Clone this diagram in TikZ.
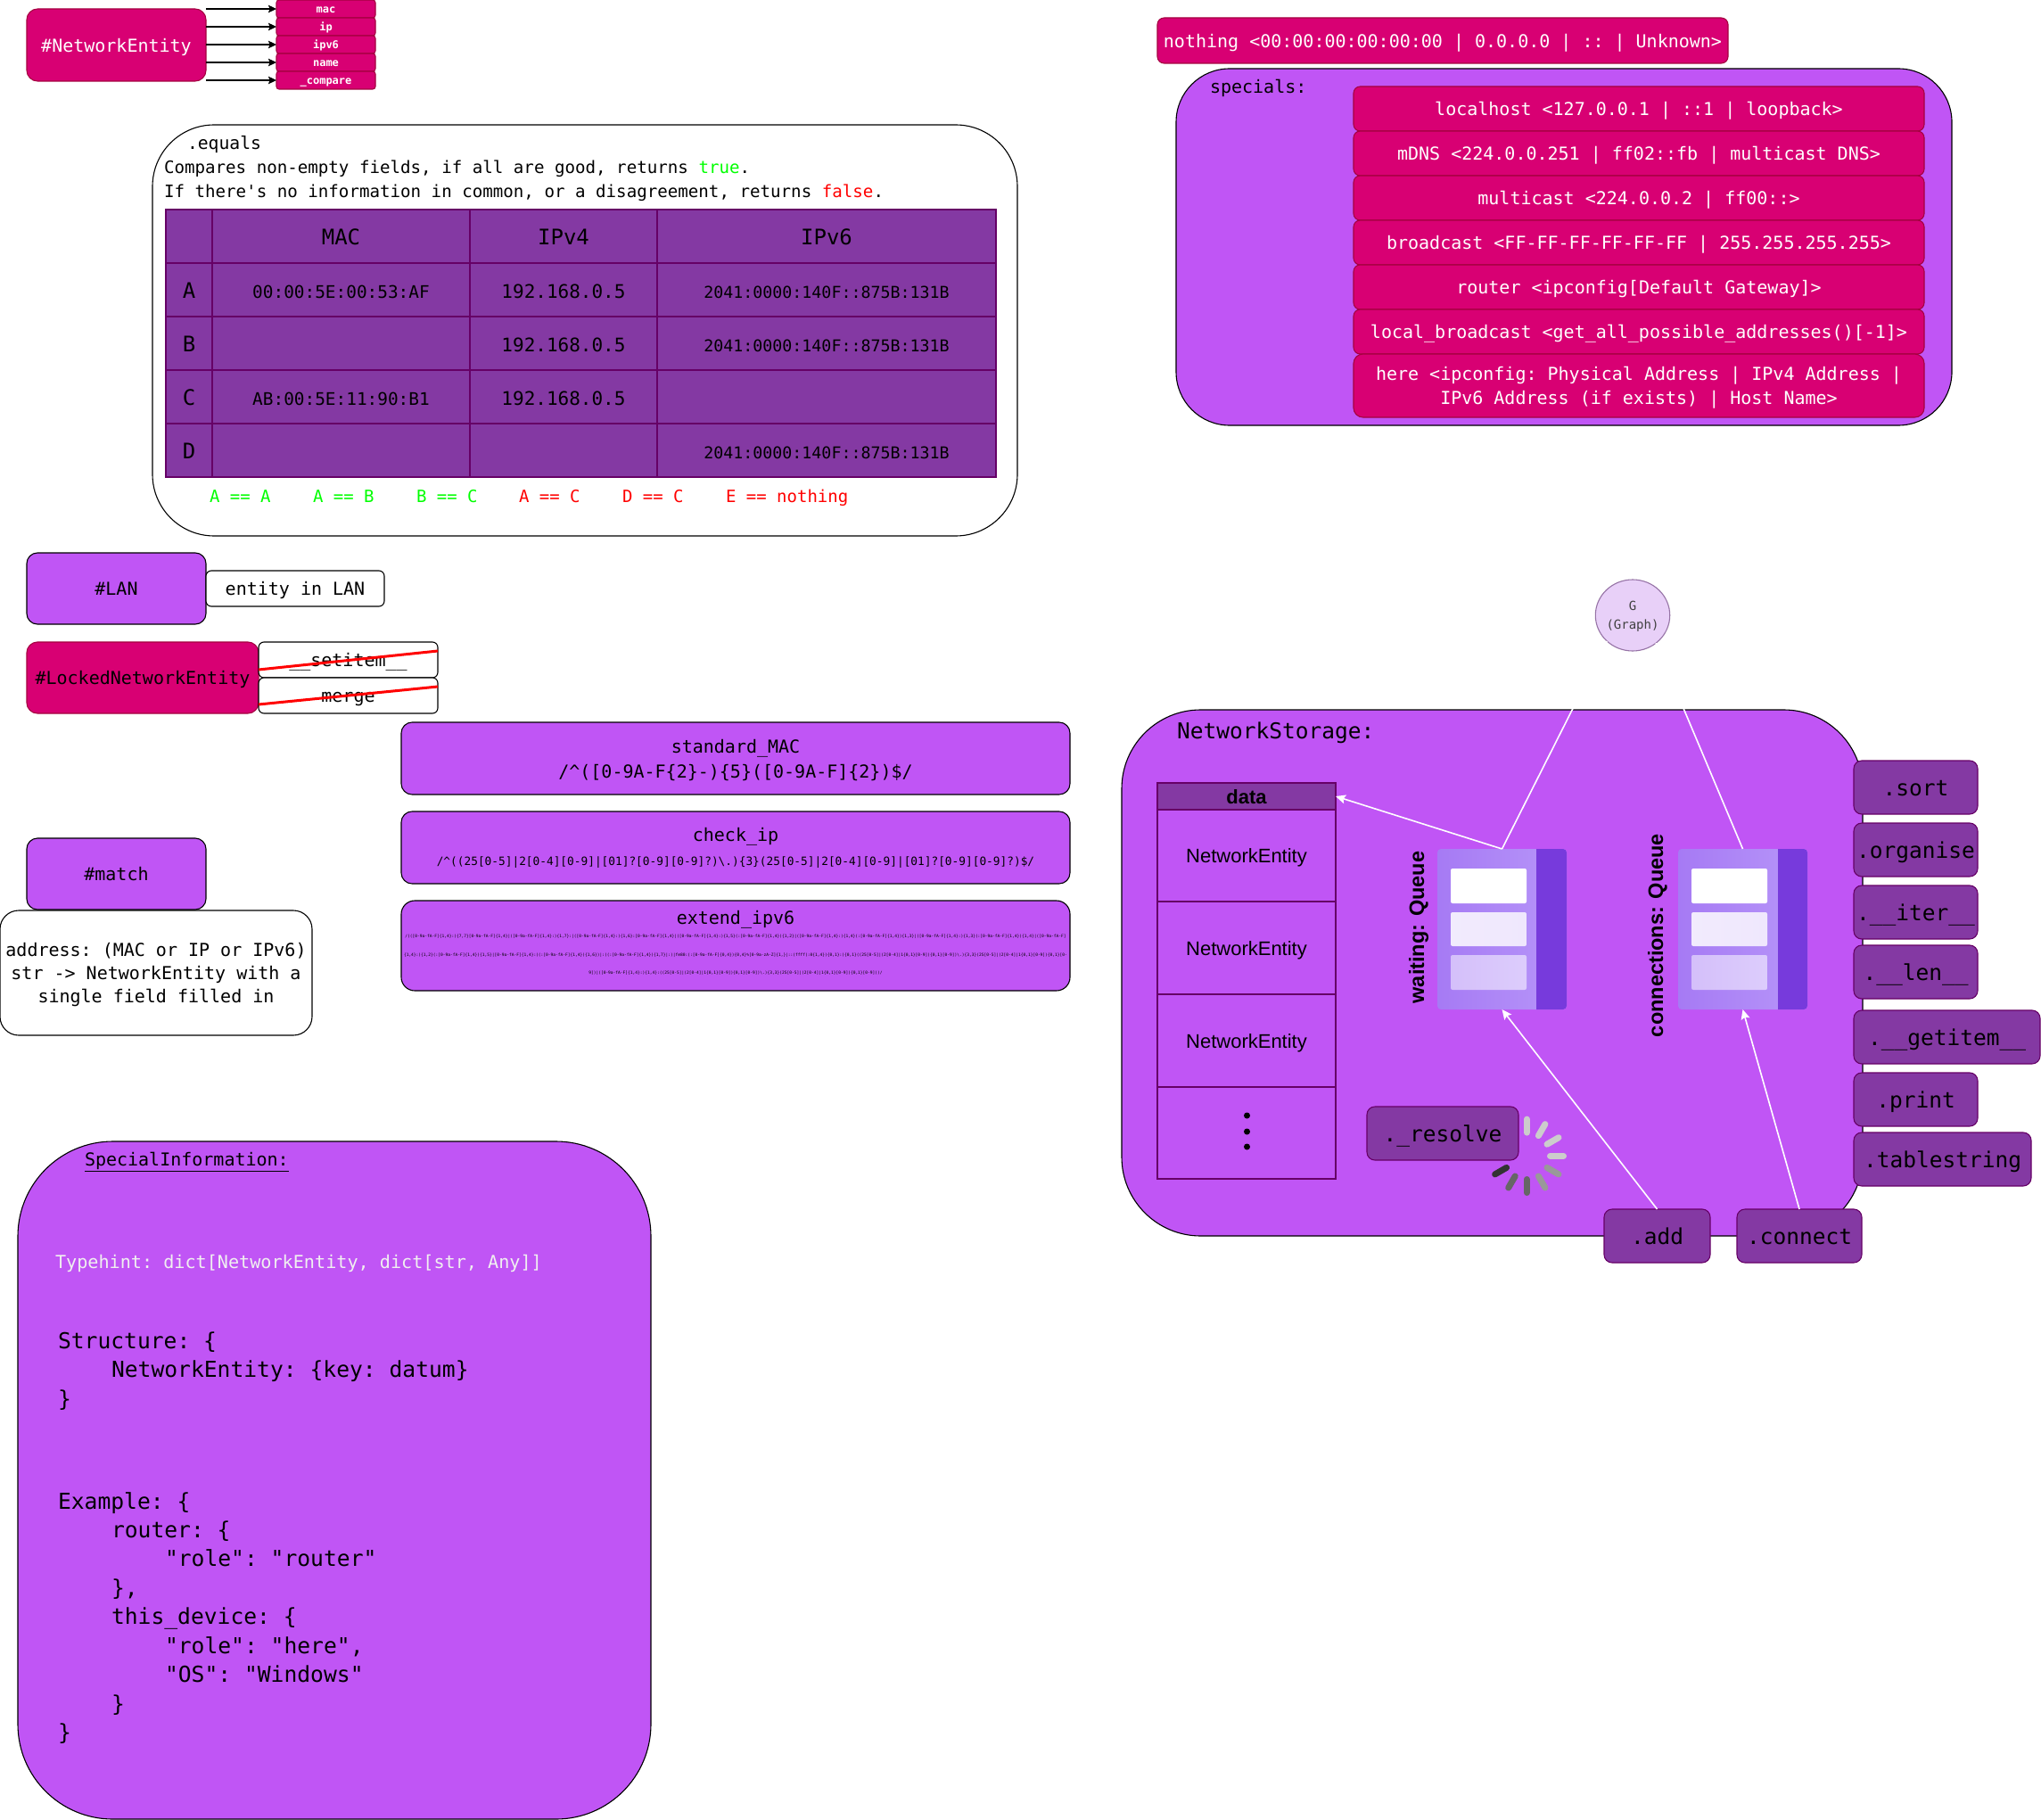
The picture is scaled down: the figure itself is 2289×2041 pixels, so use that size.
\documentclass[tikz,border=0pt]{standalone}
\usepackage{fontspec}
\setmonofont{DejaVu Sans Mono}
\newfontfamily\hvf{Liberation Sans}
\usetikzlibrary{arrows.meta,shapes.geometric}
\definecolor{purp}{HTML}{C055F5}
\definecolor{pdark}{HTML}{8439A3}
\definecolor{pstroke}{HTML}{660066}
\definecolor{pink}{HTML}{D80073}
\definecolor{pinks}{HTML}{A50040}
\definecolor{gfill}{HTML}{E8D0F8}
\definecolor{gline}{HTML}{9673A6}
\definecolor{lgreen}{HTML}{00FF00}
\definecolor{lred}{HTML}{FF0000}
\definecolor{qa}{HTML}{A67AF4}
\definecolor{qb}{HTML}{B796F9}
\definecolor{qd}{HTML}{773ADC}
\newcommand\fsz[2]{\fontsize{#1}{#2}\selectfont}
% name, options, x1, y1, x2, y2, text
\newcommand\rbx[7]{%
  \pgfmathsetmacro\rr{min(#5-#3,#6-#4)*0.15}%
  \node[rbox,rounded corners=\rr pt,minimum width={(#5-#3)*1pt},minimum height={(#6-#4)*1pt},#2]
    (#1) at ({(#3+#5)/2},{(#4+#6)/2}) {\rule{0pt}{0.76em}#7};}
% name, x, y, size, text
\newcommand\tlab[5]{\node[tlabel,font=\ttfamily\fsz{#4}{#4},yshift={-0.27*#4pt}] (#1) at (#2,#3) {#5};}
\tikzset{
  base/.style={inner sep=0pt,outer sep=0pt,align=center,line width=1.1pt,text depth=0pt},
  rbox/.style={base,draw=black,font=\ttfamily\fsz{20}{27}},
  tlabel/.style={inner sep=0pt,outer sep=0pt,anchor=mid west},
  purpbox/.style={fill=purp},
  whitebox/.style={fill=white},
  pinkbox/.style={fill=pink,draw=pinks,text=white},
  attrbox/.style={pinkbox,font=\ttfamily\bfseries\fsz{12}{14}},
  method/.style={fill=pdark,draw=pstroke,font=\ttfamily\fsz{24.5}{28}},
  tcell/.style={fill=pdark,draw=pstroke,sharp corners,font=\ttfamily\fsz{24}{28}},
  dcell/.style={draw=pstroke,sharp corners,font=\hvf\fsz{22}{26}},
  arrowblack/.style={line width=1.2pt,-{Stealth[length=9pt,width=8.5pt,inset=1.5pt]},black},
  whiteedge/.style={line width=1.6pt,white},
  whitearrow/.style={line width=1.6pt,white,-{Stealth[length=11pt,width=10pt,inset=2pt]}},
  strike/.style={line width=3pt,red},
  queue/.style={draw=none,sharp corners,rounded corners=4pt,left color=qa,right color=qb},
  qlabel/.style={inner sep=0pt,rotate=90,font=\hvf\bfseries\fsz{23.5}{26}},
  regexline/.style={inner sep=0pt,align=center},
}
\begin{document}
\begin{tikzpicture}[x=1pt,y=-1pt]
\useasboundingbox (0,0) rectangle (2289,2041);
\fill[white] (0,0) rectangle (2289,2041);

% NetworkEntity
\rbx{ne}{pinkbox}{30}{10}{231}{91}{\#NetworkEntity}
\rbx{amac}{attrbox}{310}{0}{421}{20}{mac}
\rbx{aip}{attrbox}{310}{20}{421}{40}{ip}
\rbx{aipv}{attrbox}{310}{40}{421}{60}{ipv6}
\rbx{aname}{attrbox}{310}{60}{421}{80}{name}
\rbx{acmp}{attrbox}{310}{80}{421}{100}{\_compare}
\foreach \a in {amac,aip,aipv,aname,acmp}{
  \draw[arrowblack] (\a.west -| ne.east) -- (\a.west);
}

% equals
\rbx{eq}{whitebox}{171}{140}{1141}{601}{}
\tlab{eqt}{210}{160}{19.7}{.equals}
\tlab{eqa}{184}{187}{19.15}{Compares non-empty fields, if all are good, returns \textcolor{lgreen}{true}.}
\tlab{eqb}{184}{214}{19.15}{If there's no information in common, or a disagreement, returns \textcolor{lred}{false}.}
\rbx{c00}{tcell}{186}{235}{238}{295}{}
\rbx{c01}{tcell}{238}{235}{527}{295}{MAC}
\rbx{c02}{tcell}{527}{235}{737}{295}{IPv4}
\rbx{c03}{tcell}{737}{235}{1117}{295}{IPv6}
\rbx{c10}{tcell}{186}{295}{238}{355}{A}
\rbx{c11}{tcell}{238}{295}{527}{355}{\fsz{19.4}{24}00:00:5E:00:53:AF}
\rbx{c12}{tcell}{527}{295}{737}{355}{\fsz{21}{24}192.168.0.5}
\rbx{c13}{tcell}{737}{295}{1117}{355}{\fsz{18.3}{24}2041:0000:140F::875B:131B}
\rbx{c20}{tcell}{186}{355}{238}{415}{B}
\rbx{c21}{tcell}{238}{355}{527}{415}{}
\rbx{c22}{tcell}{527}{355}{737}{415}{\fsz{21}{24}192.168.0.5}
\rbx{c23}{tcell}{737}{355}{1117}{415}{\fsz{18.3}{24}2041:0000:140F::875B:131B}
\rbx{c30}{tcell}{186}{415}{238}{475}{C}
\rbx{c31}{tcell}{238}{415}{527}{475}{\fsz{19.4}{24}AB:00:5E:11:90:B1}
\rbx{c32}{tcell}{527}{415}{737}{475}{\fsz{21}{24}192.168.0.5}
\rbx{c33}{tcell}{737}{415}{1117}{475}{}
\rbx{c40}{tcell}{186}{475}{238}{535}{D}
\rbx{c41}{tcell}{238}{475}{527}{535}{}
\rbx{c42}{tcell}{527}{475}{737}{535}{}
\rbx{c43}{tcell}{737}{475}{1117}{535}{\fsz{18.3}{24}2041:0000:140F::875B:131B}
\tlab{r1}{235}{556}{19}{\textcolor{lgreen}{A == A}}
\tlab{r2}{351}{556}{19}{\textcolor{lgreen}{A == B}}
\tlab{r3}{467}{556}{19}{\textcolor{lgreen}{B == C}}
\tlab{r4}{582}{556}{19}{\textcolor{lred}{A == C}}
\tlab{r5}{698}{556}{19}{\textcolor{lred}{D == C}}
\tlab{r6}{814}{556}{19}{\textcolor{lred}{E == nothing}}

% LAN / Locked
\rbx{lan}{purpbox}{30}{620}{231}{700}{\#LAN}
\rbx{ent}{whitebox}{231}{640}{431}{680}{entity in LAN}
\rbx{locked}{fill=pink,draw=pinks}{30}{720}{290}{800}{\#LockedNetworkEntity}
\rbx{setit}{whitebox}{290}{720}{491}{760}{\_\_setitem\_\_}
\rbx{merge}{whitebox}{290}{760}{491}{800}{merge}
\draw[strike] ([yshift=-11pt]setit.west) -- ([yshift=10pt]setit.east);
\draw[strike] ([yshift=-10pt]merge.west) -- ([yshift=10pt]merge.east);

% match
\rbx{match}{purpbox}{30}{940}{231}{1020}{\#match}
\rbx{addr}{whitebox,font=\ttfamily\fsz{20}{26.3}}{0}{1021}{350}{1161}{address: (MAC or IP or IPv6)\\str -> NetworkEntity with a\\single field filled in}

% regexes
\rbx{smac}{purpbox,font=\ttfamily\fsz{20}{28}}{450}{810}{1200}{891}{standard\_MAC\\/\textasciicircum([0-9A-F\{2\}-)\{5\}([0-9A-F]\{2\})\$/}
\rbx{cip}{purpbox}{450}{910}{1200}{991}{}
\node[regexline,font=\ttfamily\fsz{20}{24}] (cipt) at (825,938.5) {check\_ip};
\node[regexline,font=\ttfamily\fsz{12.8}{16}] (cipr) at (825,967) {/\textasciicircum((25[0-5]|2[0-4][0-9]|[01]?[0-9][0-9]?)\textbackslash.)\{3\}(25[0-5]|2[0-4][0-9]|[01]?[0-9][0-9]?)\$/};
\rbx{ext}{purpbox}{450}{1010}{1200}{1111}{}
\node[regexline,font=\ttfamily\fsz{20}{24}] (extt) at (825,1031) {extend\_ipv6};
\node[regexline,font=\ttfamily\fsz{4.56}{20.5}] (extr) at (825,1071) {/(([0-9a-fA-F]\{1,4\}:)\{7,7\}[0-9a-fA-F]\{1,4\}|([0-9a-fA-F]\{1,4\}:)\{1,7\}:|([0-9a-fA-F]\{1,4\}:)\{1,6\}:[0-9a-fA-F]\{1,4\}|([0-9a-fA-F]\{1,4\}:)\{1,5\}(:[0-9a-fA-F]\{1,4\})\{1,2\}|([0-9a-fA-F]\{1,4\}:)\{1,4\}(:[0-9a-fA-F]\{1,4\})\{1,3\}|([0-9a-fA-F]\{1,4\}:)\{1,3\}(:[0-9a-fA-F]\{1,4\})\{1,4\}|([0-9a-fA-F]\\\{1,4\}:)\{1,2\}(:[0-9a-fA-F]\{1,4\})\{1,5\}|[0-9a-fA-F]\{1,4\}:((:[0-9a-fA-F]\{1,4\})\{1,6\})|:((:[0-9a-fA-F]\{1,4\})\{1,7\}|:)|fe80:(:[0-9a-fA-F]\{0,4\})\{0,4\}\%[0-9a-zA-Z]\{1,\}|::(ffff(:0\{1,4\})\{0,1\}:)\{0,1\}((25[0-5]|(2[0-4]|1\{0,1\}[0-9])\{0,1\}[0-9])\textbackslash.)\{3,3\}(25[0-5]|(2[0-4]|1\{0,1\}[0-9])\{0,1\}[0-\\9])|([0-9a-fA-F]\{1,4\}:)\{1,4\}:((25[0-5]|(2[0-4]|1\{0,1\}[0-9])\{0,1\}[0-9])\textbackslash.)\{3,3\}(25[0-5]|(2[0-4]|1\{0,1\}[0-9])\{0,1\}[0-9]))/};

% SpecialInformation
\rbx{si}{purpbox}{20}{1280}{730}{2040}{}
\tlab{sit}{95}{1300}{20}{\underline{SpecialInformation:}}
\tlab{sih}{62}{1415}{20.15}{\textcolor{white!94!black}{Typehint: dict[NetworkEntity, dict[str, Any]]}}
\tlab{s1}{65}{1503.5}{24.65}{Structure: \{}
\tlab{s2}{125}{1536}{24.65}{NetworkEntity: \{key: datum\}}
\tlab{s3}{65}{1569}{24.65}{\}}
\tlab{s4}{65}{1683.5}{24.65}{Example: \{}
\tlab{s5}{125}{1716}{24.65}{router: \{}
\tlab{s6}{185}{1748}{24.65}{"role": "router"}
\tlab{s7}{125}{1781}{24.65}{\},}
\tlab{s8}{125}{1813}{24.65}{this\_device: \{}
\tlab{s9}{185}{1846}{24.65}{"role": "here",}
\tlab{s10}{185}{1878}{24.65}{"OS": "Windows"}
\tlab{s11}{125}{1911}{24.65}{\}}
\tlab{s12}{65}{1943}{24.65}{\}}

% nothing + specials
\rbx{nothing}{pinkbox}{1298}{20}{1938}{71}{nothing <00:00:00:00:00:00 | 0.0.0.0 | :: | Unknown>}
\rbx{spec}{purpbox}{1319}{77}{2189}{477}{}
\tlab{spect}{1357}{97}{20}{specials:}
\rbx{sp1}{pinkbox}{1518}{97}{2158}{147}{localhost <127.0.0.1 | ::1 | loopback>}
\rbx{sp2}{pinkbox}{1518}{147}{2158}{197}{mDNS <224.0.0.251 | ff02::fb | multicast DNS>}
\rbx{sp3}{pinkbox}{1518}{197}{2158}{247}{multicast <224.0.0.2 | ff00::>}
\rbx{sp4}{pinkbox}{1518}{247}{2158}{297}{broadcast <FF-FF-FF-FF-FF-FF | 255.255.255.255>}
\rbx{sp5}{pinkbox}{1518}{297}{2158}{347}{router <ipconfig[Default Gateway]>}
\rbx{sp6}{pinkbox}{1518}{347}{2158}{397}{local\_broadcast <get\_all\_possible\_addresses()[-1]>}
\rbx{sp7}{pinkbox}{1518}{397}{2158}{468}{here <ipconfig: Physical Address | IPv4 Address |\\IPv6 Address (if exists) | Host Name>}

% NetworkStorage
\rbx{store}{purpbox}{1258}{796}{2089}{1386}{}
\tlab{storet}{1320}{820}{24.5}{NetworkStorage:}
\rbx{dh}{tcell,font=\hvf\bfseries\fsz{22}{26}}{1298}{878}{1498}{908}{data}
\rbx{d1}{dcell}{1298}{908}{1498}{1011}{NetworkEntity}
\rbx{d2}{dcell}{1298}{1011}{1498}{1115}{NetworkEntity}
\rbx{d3}{dcell}{1298}{1115}{1498}{1219}{NetworkEntity}
\rbx{d4}{dcell}{1298}{1219}{1498}{1322}{}
\fill[black] (1398.5,1251) circle (3.5pt) (1398.5,1269) circle (3.5pt) (1398.5,1286) circle (3.5pt);

% queues
\node[base,queue,minimum width=145pt,minimum height=180pt] (q1) at (1684.5,1042) {};
\node[base,queue,minimum width=145pt,minimum height=180pt] (q2) at (1954.5,1042) {};
\node[base,fill=gfill,draw=gline,ellipse,minimum width=78pt,minimum height=80pt,text=black!75,font=\ttfamily\fsz{14}{20.5}] (G) at (1831,690) {G\\(Graph)};
\draw[whiteedge] (G.225) -- (q1.north);
\draw[whiteedge] (G.-50) -- (q2.north);
\foreach \qx/\dx in {1612/1723,1882/1994}{
  \pgfmathsetmacro\qr{\qx+145}
  \pgfmathsetmacro\ca{\qx+15}
  \pgfmathsetmacro\cb{\qx+100}
  \fill[qd] (\dx,952) [rounded corners=4pt] -- (\qr,952) -- (\qr,1132) [sharp corners] -- (\dx,1132) -- cycle;
  \fill[white,rounded corners=2pt] (\ca,974) rectangle (\cb,1013);
  \shade[left color=white!85!qa,right color=white!82!qa,rounded corners=2pt] (\ca,1023) rectangle (\cb,1061);
  \shade[left color=white!52!qa,right color=white!52!qb,rounded corners=2pt] (\ca,1071) rectangle (\cb,1110);
}
\node[qlabel] (wl) at (1591,1040) {waiting: Queue};
\node[qlabel] (cl) at (1859,1049) {connections: Queue};

% resolve + spinner
\rbx{res}{method}{1533}{1241}{1703}{1301}{.\_resolve}
\foreach \ang/\gr in {0/CCCCCC,30/CCCCCC,60/CCCCCC,90/CCCCCC,120/999999,150/999999,180/666666,210/666666,240/333333}{
  \definecolor{spk}{HTML}{\gr}
  \draw[spk,line width=7pt,line cap=round] ({1712.3+26.2*sin(\ang)},{1296.3-26.2*cos(\ang)}) -- ({1712.3+41.2*sin(\ang)},{1296.3-41.2*cos(\ang)});
}

% methods
\rbx{sort}{method}{2079}{853}{2218}{913}{.sort}
\rbx{org}{method}{2079}{923}{2218}{983}{.organise}
\rbx{iter}{method}{2079}{993}{2218}{1053}{.\_\_iter\_\_}
\rbx{len}{method}{2079}{1060}{2218}{1120}{.\_\_len\_\_}
\rbx{getit}{method}{2079}{1133}{2288}{1193}{.\_\_getitem\_\_}
\rbx{print}{method}{2079}{1203}{2218}{1263}{.print}
\rbx{tabs}{method}{2079}{1270}{2278}{1330}{.tablestring}
\rbx{add}{method}{1799}{1356}{1918}{1416}{.add}
\rbx{conn}{method}{1948}{1356}{2088}{1416}{.connect}
\draw[whitearrow] (q1.north) -- (dh.east);
\draw[whitearrow] (add.north) -- (q1.south);
\draw[whitearrow] (conn.north) -- (q2.south);
\end{tikzpicture}
\end{document}
